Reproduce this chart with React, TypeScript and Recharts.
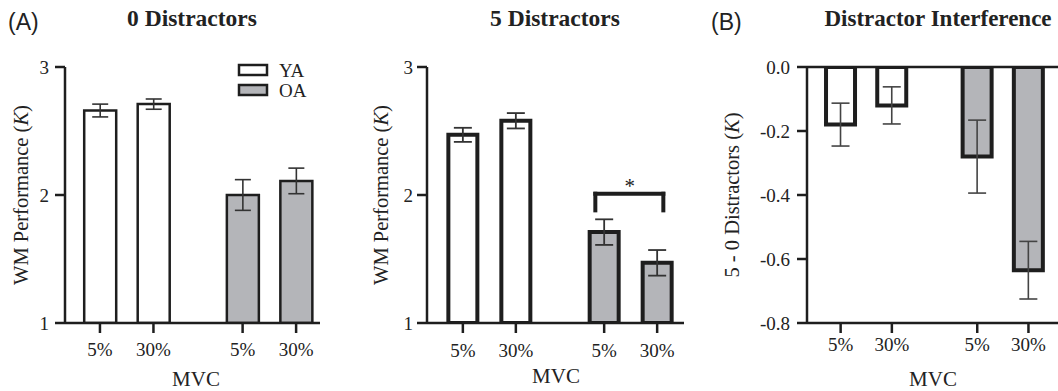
import React from 'react';
import {
  BarChart,
  Bar,
  XAxis,
  YAxis,
  Cell,
  ErrorBar,
  ReferenceLine,
  ReferenceDot,
} from 'recharts';

// ---------- data ----------
const groups = ['YA', 'YA', 'OA', 'OA'];
const mvcLabels = ['5%', '30%', '5%', '30%'];
const xPos = [0, 3, 8, 11];

const zeroMeans = [2.66, 2.71, 2.0, 2.11];
const zeroErr = [0.05, 0.04, 0.12, 0.1];

const fiveMeans = [2.47, 2.58, 1.71, 1.47];
const fiveErr = [0.055, 0.06, 0.1, 0.1];

const diffMeans = [-0.18, -0.12, -0.28, -0.635];
const diffErr = [0.067, 0.058, 0.114, 0.09];

const perfTicks = [1, 2, 3];
const diffTicks = [0, -0.2, -0.4, -0.6, -0.8];

const legendItems = [
  { name: 'YA', fill: '#ffffff' },
  { name: 'OA', fill: '#b4b5b9' },
];

const groupFill: Record<string, string> = { YA: '#ffffff', OA: '#b4b5b9' };

const build = (means: number[], errs: number[]) =>
  means.map((v, i) => ({ x: xPos[i], v, e: errs[i], g: groups[i], label: mvcLabels[i] }));

const zeroData = build(zeroMeans, zeroErr);
const fiveData = build(fiveMeans, fiveErr);
const diffData = build(diffMeans, diffErr);

// ---------- styles ----------
const SERIF = 'Liberation Serif, Times New Roman, serif';
const SANS = 'Liberation Sans, Arial, sans-serif';
const INK = '#1e1e1e';
const tickStyle = { fontFamily: SERIF, fontSize: 19, fill: '#222' };
const xFmt = (v: number) => mvcLabels[xPos.indexOf(v)] ?? '';

type PanelProps = {
  data: any[];
  left: number;
  width: number;
  yWidth: number;
  marginRight: number;
  xDomain: [number, number];
  yDomain: [number, number];
  yTicks: number[];
  yFmt?: (v: number) => string;
  barSize: number;
  barStroke: number;
  errWidth: number;
  errStroke: number;
  errColor: string;
  xTickMargin: number;
  yTickMargin: number;
  children?: React.ReactNode;
};

const Panel = (p: PanelProps) => (
  <div style={{ position: 'absolute', left: p.left, top: 0 }}>
    <BarChart
      width={p.width}
      height={391}
      data={p.data}
      margin={{ top: 67, right: p.marginRight, left: 0, bottom: 0 }}
    >
      <XAxis
        type="number"
        dataKey="x"
        domain={p.xDomain}
        allowDataOverflow
        ticks={xPos}
        tickFormatter={xFmt}
        height={68}
        tick={tickStyle}
        tickSize={10}
        tickMargin={p.xTickMargin}
        axisLine={{ stroke: INK, strokeWidth: 2.5 }}
        tickLine={{ stroke: INK, strokeWidth: 2.5 }}
        interval={0}
      />
      <YAxis
        type="number"
        domain={p.yDomain}
        allowDataOverflow
        ticks={p.yTicks}
        tickFormatter={p.yFmt}
        width={p.yWidth}
        tick={tickStyle}
        tickSize={10}
        tickMargin={p.yTickMargin}
        axisLine={{ stroke: INK, strokeWidth: 2.5 }}
        tickLine={{ stroke: INK, strokeWidth: 2.5 }}
        interval={0}
      />
      <Bar
        dataKey="v"
        barSize={p.barSize}
        stroke={INK}
        strokeWidth={p.barStroke}
        isAnimationActive={false}
      >
        {p.data.map((d, i) => (
          <Cell key={i} fill={groupFill[d.g]} />
        ))}
        <ErrorBar
          dataKey="e"
          width={p.errWidth}
          stroke={p.errColor}
          strokeWidth={p.errStroke}
          direction="y"
          isAnimationActive={false}
        />
      </Bar>
      {p.children}
    </BarChart>
  </div>
);

const Overlay = () => (
  <svg
    width={1058}
    height={391}
    style={{ position: 'absolute', left: 0, top: 0, pointerEvents: 'none' }}
  >
    {/* panel letters */}
    <text x={8} y={30} fontFamily={SANS} fontSize={23} fill="#222">(A)</text>
    <text x={711} y={30} fontFamily={SANS} fontSize={23} fill="#222">(B)</text>
    {/* titles */}
    <text x={192} y={26} textAnchor="middle" fontFamily={SERIF} fontWeight="bold" fontSize={23.5} fill="#222">0 Distractors</text>
    <text x={555} y={26} textAnchor="middle" fontFamily={SERIF} fontWeight="bold" fontSize={23.5} fill="#222">5 Distractors</text>
    <text x={938} y={26} textAnchor="middle" fontFamily={SERIF} fontWeight="bold" fontSize={23} fill="#222">Distractor Interference</text>
    {/* y labels */}
    <text transform="translate(28,195) rotate(-90)" textAnchor="middle" fontFamily={SERIF} fontSize={20.5} fill="#222">
      WM Performance (<tspan fontStyle="italic">K</tspan>)
    </text>
    <text transform="translate(388,195) rotate(-90)" textAnchor="middle" fontFamily={SERIF} fontSize={20.5} fill="#222">
      WM Performance (<tspan fontStyle="italic">K</tspan>)
    </text>
    <text transform="translate(739,195) rotate(-90)" textAnchor="middle" fontFamily={SERIF} fontSize={20.5} fill="#222">
      5 - 0 Distractors (<tspan fontStyle="italic">K</tspan>)
    </text>
    {/* x labels */}
    <text x={196} y={386} textAnchor="middle" fontFamily={SERIF} fontSize={21} fill="#222">MVC</text>
    <text x={556} y={383} textAnchor="middle" fontFamily={SERIF} fontSize={21} fill="#222">MVC</text>
    <text x={933} y={386} textAnchor="middle" fontFamily={SERIF} fontSize={21} fill="#222">MVC</text>
    {/* legend */}
    {legendItems.map((it, i) => (
      <g key={it.name}>
        <rect x={239} y={65 + i * 20} width={28} height={10} fill={it.fill} stroke={INK} strokeWidth={2.5} />
        <text x={279} y={76.5 + i * 20} fontFamily={SERIF} fontSize={19} fill="#222">{it.name}</text>
      </g>
    ))}
  </svg>
);

export default function App() {
  return (
    <div style={{ position: 'absolute', left: 0, top: 0, width: 1058, height: 391, background: '#fff', overflow: 'hidden' }}>
      <Panel
        data={zeroData}
        left={0}
        width={360}
        yWidth={65}
        marginRight={40}
        xDomain={[-1.96, 12.34]}
        yDomain={[1, 3]}
        yTicks={perfTicks}
        barSize={32}
        barStroke={2.5}
        errWidth={8}
        errStroke={1.6}
        errColor="#333"
        xTickMargin={10}
        yTickMargin={6}
      />
      <Panel
        data={fiveData}
        left={360}
        width={340}
        yWidth={67}
        marginRight={16}
        xDomain={[-2.03, 12.52]}
        yDomain={[1, 3]}
        yTicks={perfTicks}
        barSize={29}
        barStroke={4}
        errWidth={9}
        errStroke={1.8}
        errColor="#333"
        xTickMargin={11}
        yTickMargin={4}
      >
        <ReferenceLine segment={[{ x: 7.5, y: 2.01 }, { x: 11.35, y: 2.01 }]} stroke={INK} strokeWidth={4} strokeLinecap="square" />
        <ReferenceLine segment={[{ x: 7.5, y: 2.01 }, { x: 7.5, y: 1.88 }]} stroke={INK} strokeWidth={4} strokeLinecap="square" />
        <ReferenceLine segment={[{ x: 11.35, y: 2.01 }, { x: 11.35, y: 1.88 }]} stroke={INK} strokeWidth={4} strokeLinecap="square" />
        <ReferenceDot
          x={9.45}
          y={2.07}
          r={0}
          fill="none"
          stroke="none"
          label={{ value: '*', position: 'center', fontFamily: SERIF, fontSize: 21, fill: '#222' }}
        />
      </Panel>
      <Panel
        data={diffData}
        left={700}
        width={358}
        yWidth={107}
        marginRight={0}
        xDomain={[-1.97, 12.73]}
        yDomain={[-0.8, 0]}
        yTicks={diffTicks}
        yFmt={(v: number) => v.toFixed(1)}
        barSize={29}
        barStroke={4}
        errWidth={9}
        errStroke={1.6}
        errColor="#444"
        xTickMargin={5}
        yTickMargin={7}
      >
        <ReferenceLine y={0} stroke={INK} strokeWidth={2.5} />
      </Panel>
      <Overlay />
    </div>
  );
}
